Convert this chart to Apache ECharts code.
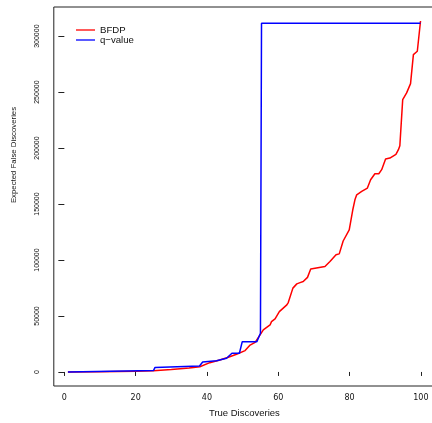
<!DOCTYPE html>
<html>
<head>
<meta charset="utf-8">
<script src="https://cdn.jsdelivr.net/npm/echarts@6/dist/echarts.min.js"></script>
<style>
  html, body { margin: 0; padding: 0; background: #fff; }
  #chart { width: 432px; height: 423px; }
</style>
</head>
<body>
<div id="chart"></div>
<script>
// Expected true discoveries (x) vs expected false discoveries (y)
const bfdpX = [1, 10, 20, 25, 30, 35, 38, 40.8, 43.6, 46, 48.3, 50.7, 52.1, 53.5, 54.9, 55.8,
  57.7, 58.1, 59.1, 60.3, 62.4, 62.8, 64.1, 65.2, 66.1, 67, 68.2, 69.1, 73.1, 74.5, 76.2,
  77.1, 78.2, 79.9, 80.9, 81.5, 82, 83.4, 85, 85.9, 87.1, 88.2, 89, 90.1, 91.3, 93,
  93.7, 94.1, 94.9, 96, 97.1, 97.9, 99, 99.9];
const bfdpY = [0, 150, 600, 1100, 2200, 3500, 4700, 8300, 10700, 13100, 15800, 19100, 24000, 26500, 33100, 37600,
  42000, 45000, 47500, 53900, 59900, 62000, 74900, 78700, 79800, 80800, 84500, 91900, 94200, 98700, 104700,
  105500, 117000, 127000, 144900, 153800, 158300, 161300, 164300, 171700, 177100, 177100, 180700, 190200, 191100, 194400,
  198600, 202100, 243300, 249300, 257600, 283500, 286500, 313500];

const qvalX = [1, 25, 25.4, 37.9, 38.8, 42.7, 45.5, 47, 49.1, 49.9, 54, 55, 55.3, 99.9];
const qvalY = [0, 1200, 3900, 5400, 8900, 10100, 12300, 16700, 16700, 27100, 27100, 34600, 311600, 311600];

const xTicks = [0, 20, 40, 60, 80, 100];
const yTicks = [0, 50000, 100000, 150000, 200000, 250000, 300000];

const seriesNames = ['BFDP', 'q\u2212value'];

const pairs = (xs, ys) => xs.map((x, i) => [x, ys[i]]);

const chart = echarts.init(document.getElementById('chart'), null, { renderer: 'canvas' });

const sans = 'Liberation Sans, Arial, Helvetica, sans-serif';

chart.setOption({
  animation: false,
  backgroundColor: '#ffffff',
  grid: {
    left: 53.8, top: 7, width: 381.2, height: 379,
    show: true, borderColor: '#222', borderWidth: 1,
    outerBoundsMode: 'none', containLabel: false
  },
  legend: {
    orient: 'vertical',
    left: 76, top: 25,
    padding: 0,
    itemGap: 0,
    itemWidth: 19,
    itemHeight: 1.3,
    icon: 'rect',
    textStyle: { fontFamily: sans, fontSize: 9.6, color: '#111', lineHeight: 8.7 },
    data: seriesNames
  },
  xAxis: {
    type: 'value',
    min: -2.96, max: 103.96,
    name: 'True Discoveries',
    nameLocation: 'middle',
    nameGap: 22,
    nameTextStyle: { fontFamily: sans, fontSize: 9.5, color: '#111' },
    axisLine: { show: false },
    splitLine: { show: false },
    axisTick: { show: true, length: 4, customValues: xTicks, lineStyle: { color: '#222', width: 1 } },
    axisLabel: {
      customValues: xTicks, margin: 8,
      fontFamily: 'DejaVu Sans, sans-serif', fontSize: 8, color: '#111',
      formatter: v => String(v)
    }
  },
  yAxis: {
    type: 'value',
    min: -12540, max: 326040,
    axisLine: { show: false },
    splitLine: { show: false },
    axisTick: { show: true, length: 6, customValues: yTicks, lineStyle: { color: '#222', width: 1 } },
    axisLabel: {
      customValues: yTicks, rotate: 90, margin: 12.8,
      fontFamily: 'Liberation Sans Narrow, ' + sans, fontSize: 7, color: '#111',
      formatter: v => String(v)
    }
  },
  graphic: [{
    type: 'text',
    x: 14, y: 155,
    rotation: Math.PI / 2,
    style: {
      text: 'Expected False Discoveries',
      font: '7.8px ' + sans,
      fill: '#111',
      align: 'center',
      verticalAlign: 'middle'
    }
  }],
  series: [
    {
      name: seriesNames[0],
      type: 'line',
      data: pairs(bfdpX, bfdpY),
      showSymbol: false,
      symbol: 'none',
      lineStyle: { color: '#ff0000', width: 1.5 },
      itemStyle: { color: '#ff0000' }
    },
    {
      name: seriesNames[1],
      type: 'line',
      data: pairs(qvalX, qvalY),
      showSymbol: false,
      symbol: 'none',
      lineStyle: { color: '#0000ff', width: 1.5 },
      itemStyle: { color: '#0000ff' }
    }
  ]
});
</script>
</body>
</html>
